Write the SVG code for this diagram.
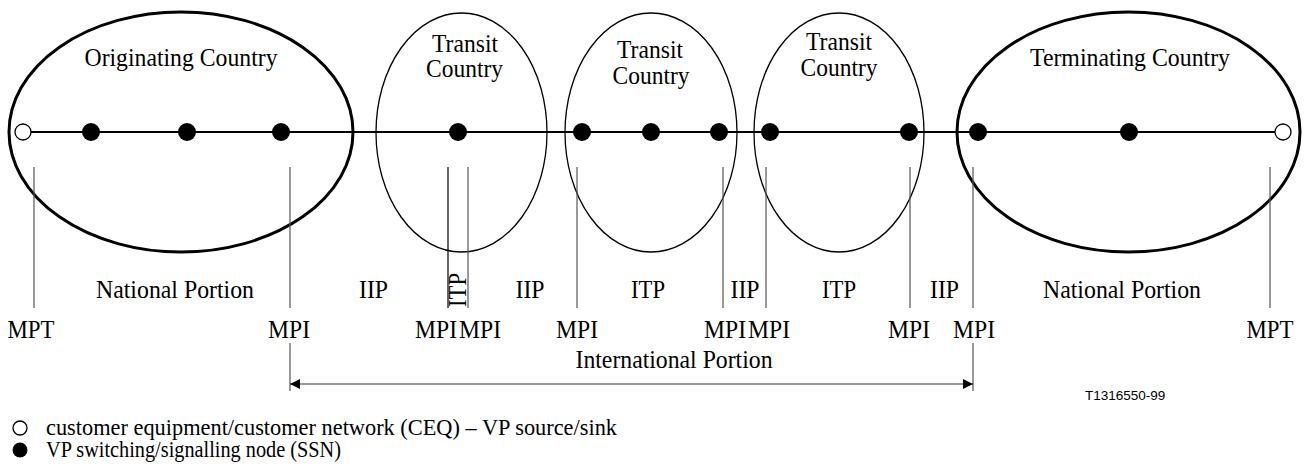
<svg xmlns="http://www.w3.org/2000/svg" width="1305" height="468" viewBox="0 0 1305 468">
<style>
text{font-family:"Liberation Serif","Times New Roman",serif;font-size:26px;fill:#000}
.c{text-anchor:middle}
.big{fill:none;stroke:#000;stroke-width:3}
.tr{fill:none;stroke:#000;stroke-width:1.3}
.tick{stroke:#555;stroke-width:1.2}
.sw{fill:#000}
.ceq{fill:#fff;stroke:#000;stroke-width:1.3}
.ref{font-family:"Liberation Sans",Arial,sans-serif;font-size:13.5px}
.leg{font-size:23px}
</style>
<defs>
<marker id="ah" viewBox="0 0 10 10" refX="10" refY="5" markerWidth="10" markerHeight="10" markerUnits="userSpaceOnUse" orient="auto-start-reverse">
<path d="M0,0 L10,5 L0,10 Z" fill="#000"/>
</marker>
</defs>
<rect width="1305" height="468" fill="#fff"/>

<g id="originating-country">
<ellipse class="big" cx="181" cy="132" rx="172" ry="120"/>
<text class="c" x="181" y="66" textLength="193" lengthAdjust="spacingAndGlyphs">Originating Country</text>
</g>
<g id="transit-country-1">
<ellipse class="tr" cx="461.5" cy="132.5" rx="85.5" ry="119.5"/>
<text class="c" x="465" y="52" textLength="66" lengthAdjust="spacingAndGlyphs">Transit</text>
<text class="c" x="464.5" y="77" textLength="77" lengthAdjust="spacingAndGlyphs">Country</text>
</g>
<g id="transit-country-2">
<ellipse class="tr" cx="651" cy="132.5" rx="86" ry="119.5"/>
<text class="c" x="650" y="58" textLength="66" lengthAdjust="spacingAndGlyphs">Transit</text>
<text class="c" x="651" y="84" textLength="77" lengthAdjust="spacingAndGlyphs">Country</text>
</g>
<g id="transit-country-3">
<ellipse class="tr" cx="839" cy="132.5" rx="85" ry="119.5"/>
<text class="c" x="839" y="50" textLength="66" lengthAdjust="spacingAndGlyphs">Transit</text>
<text class="c" x="839" y="76" textLength="77" lengthAdjust="spacingAndGlyphs">Country</text>
</g>
<g id="terminating-country">
<ellipse class="big" cx="1128.5" cy="132" rx="171.5" ry="120"/>
<text class="c" x="1130" y="66" textLength="200" lengthAdjust="spacingAndGlyphs">Terminating Country</text>
</g>

<g id="connectors">
<line x1="23" y1="132" x2="1283" y2="132" stroke="#000" stroke-width="2"/>
<line class="tick" x1="34" y1="167" x2="34" y2="308"/>
<line class="tick" x1="290" y1="167" x2="290" y2="308"/>
<line class="tick" x1="448" y1="167" x2="448" y2="308" style="stroke:#000"/>
<line class="tick" x1="468" y1="167" x2="468" y2="308"/>
<line class="tick" x1="577" y1="167" x2="577" y2="308"/>
<line class="tick" x1="723" y1="167" x2="723" y2="308"/>
<line class="tick" x1="766" y1="167" x2="766" y2="308"/>
<line class="tick" x1="910" y1="167" x2="910" y2="308"/>
<line class="tick" x1="973" y1="167" x2="973" y2="308"/>
<line class="tick" x1="1270" y1="167" x2="1270" y2="308"/>
<line class="tick" x1="290" y1="343" x2="290" y2="391"/>
<line class="tick" x1="973" y1="343" x2="973" y2="391"/>
<line x1="290" y1="384" x2="973" y2="384" stroke="#333" stroke-width="1.2" marker-start="url(#ah)" marker-end="url(#ah)"/>
</g>

<g id="nodes">
<circle class="ceq" cx="23" cy="132" r="8"/>
<circle class="sw" cx="91" cy="132" r="9"/>
<circle class="sw" cx="187" cy="132" r="9"/>
<circle class="sw" cx="281" cy="132" r="9"/>
<circle class="sw" cx="458" cy="132" r="9"/>
<circle class="sw" cx="582" cy="132" r="9"/>
<circle class="sw" cx="651" cy="132" r="9"/>
<circle class="sw" cx="719" cy="132" r="9"/>
<circle class="sw" cx="770" cy="132" r="9"/>
<circle class="sw" cx="909" cy="132" r="9"/>
<circle class="sw" cx="978" cy="132" r="9"/>
<circle class="sw" cx="1129" cy="132" r="9"/>
<circle class="ceq" cx="1283" cy="132" r="8"/>
</g>

<g id="portion-labels">
<text class="c" x="175" y="298" textLength="158" lengthAdjust="spacingAndGlyphs">National Portion</text>
<text class="c" x="373.5" y="298" textLength="29" lengthAdjust="spacingAndGlyphs">IIP</text>
<text class="c" transform="translate(466,290) rotate(-90)" x="0" y="0" textLength="34" lengthAdjust="spacingAndGlyphs">ITP</text>
<text class="c" x="530" y="298" textLength="29" lengthAdjust="spacingAndGlyphs">IIP</text>
<text class="c" x="648" y="298" textLength="34" lengthAdjust="spacingAndGlyphs">ITP</text>
<text class="c" x="745" y="298" textLength="29" lengthAdjust="spacingAndGlyphs">IIP</text>
<text class="c" x="839" y="298" textLength="34" lengthAdjust="spacingAndGlyphs">ITP</text>
<text class="c" x="944.5" y="298" textLength="29" lengthAdjust="spacingAndGlyphs">IIP</text>
<text class="c" x="1122" y="298" textLength="158" lengthAdjust="spacingAndGlyphs">National Portion</text>
</g>

<g id="point-labels">
<text class="c" x="31" y="338" textLength="47" lengthAdjust="spacingAndGlyphs">MPT</text>
<text class="c" x="289" y="338" textLength="42" lengthAdjust="spacingAndGlyphs">MPI</text>
<text class="c" x="436" y="338" textLength="42" lengthAdjust="spacingAndGlyphs">MPI</text>
<text class="c" x="480" y="338" textLength="42" lengthAdjust="spacingAndGlyphs">MPI</text>
<text class="c" x="577" y="338" textLength="42" lengthAdjust="spacingAndGlyphs">MPI</text>
<text class="c" x="725" y="338" textLength="42" lengthAdjust="spacingAndGlyphs">MPI</text>
<text class="c" x="769" y="338" textLength="42" lengthAdjust="spacingAndGlyphs">MPI</text>
<text class="c" x="909" y="338" textLength="42" lengthAdjust="spacingAndGlyphs">MPI</text>
<text class="c" x="974" y="338" textLength="42" lengthAdjust="spacingAndGlyphs">MPI</text>
<text class="c" x="1270" y="338" textLength="47" lengthAdjust="spacingAndGlyphs">MPT</text>
</g>

<g id="international-portion">
<text class="c" x="674" y="368" textLength="197" lengthAdjust="spacingAndGlyphs">International Portion</text>
</g>

<text class="ref" x="1085" y="400">T1316550-99</text>

<g id="legend">
<circle class="ceq" cx="20" cy="428" r="7"/>
<text class="leg" x="46" y="435" textLength="571" lengthAdjust="spacingAndGlyphs">customer equipment/customer network (CEQ) – VP source/sink</text>
<circle class="sw" cx="20" cy="450" r="7.5"/>
<text class="leg" x="46" y="457" textLength="295" lengthAdjust="spacingAndGlyphs">VP switching/signalling node (SSN)</text>
</g>
</svg>
